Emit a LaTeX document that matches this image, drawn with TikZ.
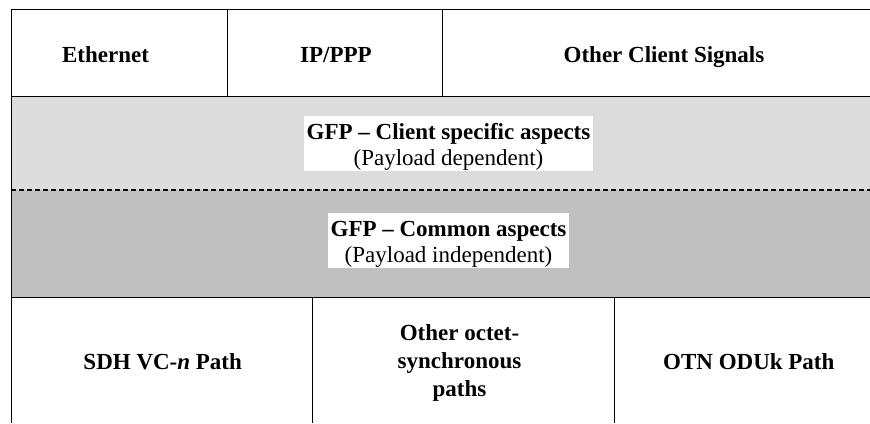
\documentclass[tikz,border=0pt]{standalone}
\usepackage{fontspec}
\setmainfont{Liberation Serif}
\begin{document}
\begin{tikzpicture}[x=1pt,y=-1pt,
  rule/.style={draw=black,line width=0.9pt},
  split/.style={draw=black,line width=1.5pt,dash pattern=on 5pt off 3pt},
  lbl/.style={inner sep=0pt,anchor=base,font=\fontsize{23}{26}\selectfont\bfseries},
  sub/.style={inner sep=0pt,anchor=base,font=\fontsize{23}{26}\selectfont},
  plate/.style={fill=white,draw=none,inner sep=0pt},
]
\definecolor{clientgray}{RGB}{220,220,220}
\definecolor{commongray}{RGB}{192,192,192}
\useasboundingbox (0,0) rectangle (870,423);

% shaded GFP layers
\fill[clientgray] (11,96) rectangle (870,190);
\fill[commongray] (11,190) rectangle (870,297);

% table rules
\draw[rule] (11,9) -- (870,9);
\draw[rule] (11,96) -- (870,96);
\draw[rule] (11,297) -- (870,297);
\draw[rule] (11,9) -- (11,423);
\draw[rule] (227,9) -- (227,96);
\draw[rule] (442,9) -- (442,96);
\draw[rule] (312.5,297) -- (312.5,423);
\draw[rule] (614,297) -- (614,423);
\draw[split] (11,190) -- (870,190);

% client signals
\node[lbl] (eth) at (105.5,62.5) {Ethernet};
\node[lbl] (ip) at (336,62.5) {IP/PPP};
\node[lbl] (other) at (664,62.5) {Other Client Signals};

% GFP client specific layer
\node[plate,minimum width=289pt,minimum height=55pt] (cplate) at (448.5,143.5) {};
\node[lbl] (cspec) at (448.5,139) {GFP -- Client specific aspects};
\node[sub] (cdep) at (448.5,165) {(Payload dependent)};

% GFP common layer
\node[plate,minimum width=241pt,minimum height=55pt] (mplate) at (448.5,240.5) {};
\node[lbl] (common) at (448.5,236) {GFP -- Common aspects};
\node[sub] (mind) at (448.5,262.5) {(Payload independent)};

% transport paths
\node[lbl] (sdh) at (162.7,369) {SDH VC-\textit{n} Path};
\node[lbl] (oct1) at (459.5,340) {Other octet-};
\node[lbl] (oct2) at (459.5,368) {synchronous};
\node[lbl] (oct3) at (459.5,396.5) {paths};
\node[lbl] (otn) at (748.8,369) {OTN ODUk Path};
\end{tikzpicture}
\end{document}
